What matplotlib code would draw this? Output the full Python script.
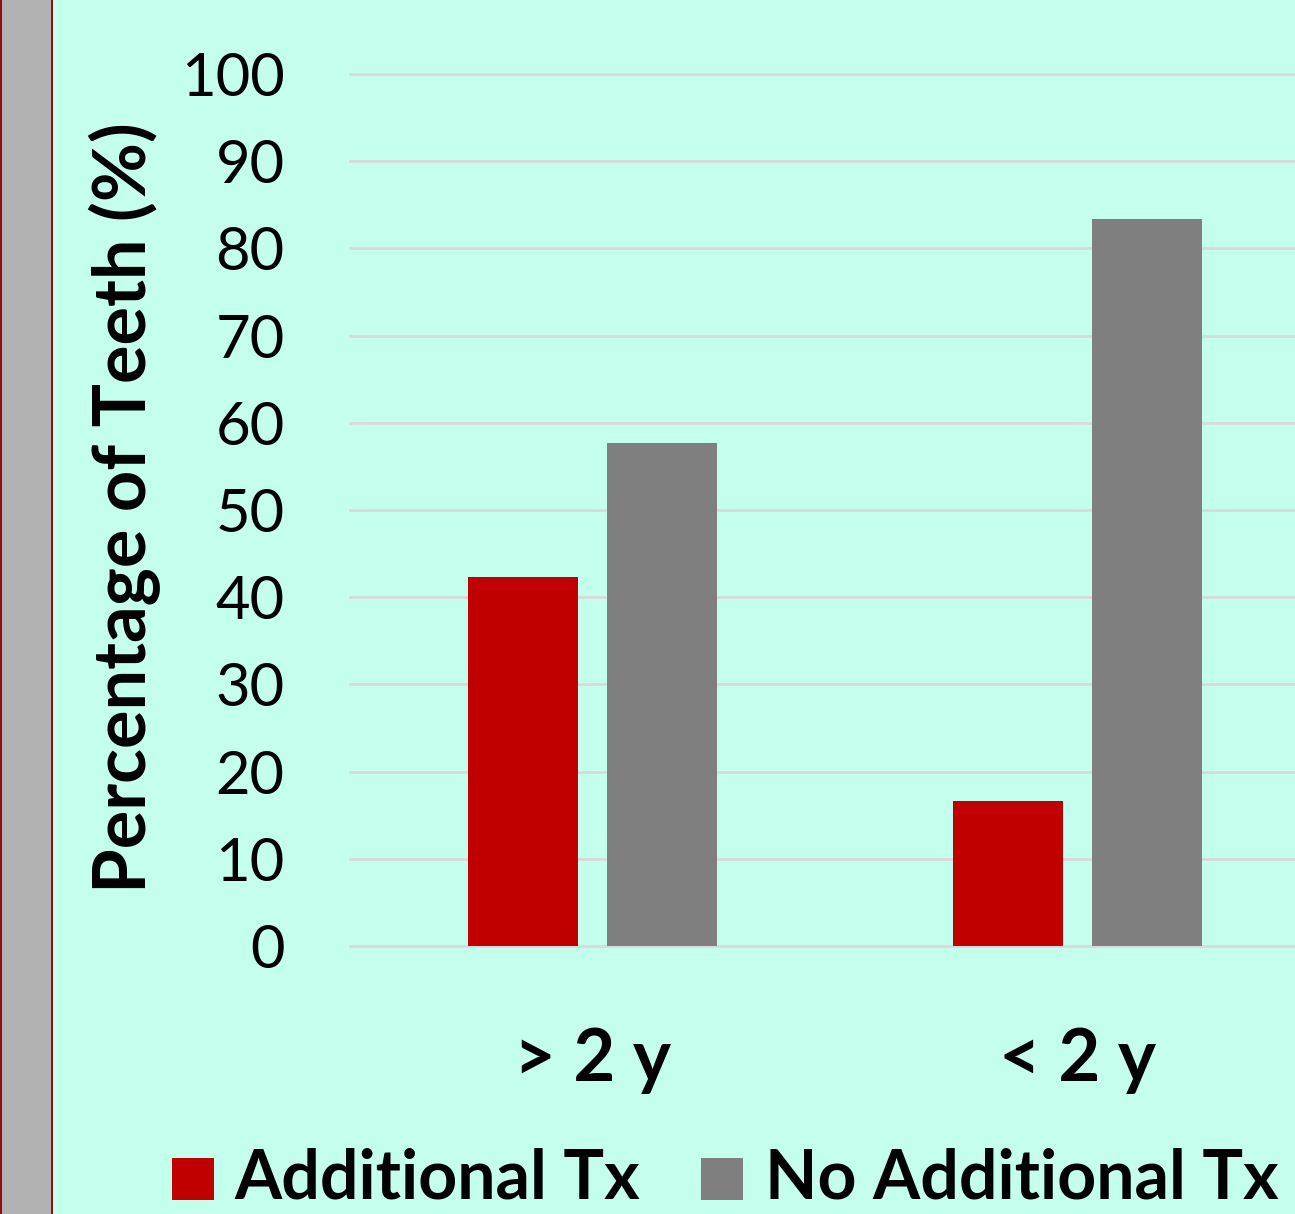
import matplotlib
matplotlib.use("Agg")
import matplotlib.pyplot as plt
from matplotlib.patches import Rectangle
import numpy as np

# Data
categories = ["> 2 y", "< 2 y"]
series_names = ["Additional Tx", "No Additional Tx"]
additional_tx = [42.3, 16.6]
no_additional_tx = [57.7, 83.4]
yticks = [0, 10, 20, 30, 40, 50, 60, 70, 80, 90, 100]

bg = "#C4FFEE"
red = "#C00000"
gray = "#7F7F7F"

plt.rcParams["font.family"] = ["Lato", "DejaVu Sans"]

W, H = 1295, 1214
fig = plt.figure(figsize=(W / 100, H / 100), dpi=100)
fig.patch.set_facecolor(bg)

# Side stripe on the left edge
fig.add_artist(Rectangle((0, 0), 53 / W, 1, transform=fig.transFigure,
                         facecolor="#8B1010", edgecolor="none"))
fig.add_artist(Rectangle((2 / W, 0), 49 / W, 1, transform=fig.transFigure,
                         facecolor="#B2B2B2", edgecolor="none"))

ax = fig.add_axes([350 / W, (H - 946) / H, 970 / W, 872 / H])
ax.set_facecolor(bg)
ax.set_xlim(-0.5, 1.5)
ax.set_ylim(0, 100)

x = np.arange(len(categories))
bw = 0.225
off = 0.1433
ax.bar(x - off, additional_tx, bw, color=red, zorder=3)
ax.bar(x + off, no_additional_tx, bw, color=gray, zorder=3)

ax.set_yticks(yticks)
ax.set_yticklabels([str(v) for v in yticks], fontsize=43)
ax.yaxis.grid(True, color="#D9D9D9", linewidth=2, zorder=0)
ax.set_axisbelow(True)
for g in ax.get_ygridlines():
    g.set_clip_on(False)
ax.tick_params(axis="y", length=0, pad=47)
ax.tick_params(axis="x", length=0, pad=58)
ax.set_xticks(x)
ax.set_xticklabels(categories, fontsize=52, fontweight="bold")
for s in ax.spines.values():
    s.set_visible(False)

fig.text(125 / W, (H - 508) / H, "Percentage of Teeth (%)", rotation=90,
         fontsize=52, fontweight="bold", ha="center", va="center")

# Legend drawn as squares with labels
leg = [(172, red, 234, series_names[0]), (701, gray, 765, series_names[1])]
for sx, col, tx, name in leg:
    fig.add_artist(Rectangle((sx / W, (H - 1200) / H), 42 / W, 42 / H,
                             transform=fig.transFigure, facecolor=col,
                             edgecolor="none"))
    fig.text(tx / W, (H - 1179) / H, name, fontsize=49, fontweight="bold",
             ha="left", va="center")

fig.savefig("out.png", dpi=100, facecolor=bg)
